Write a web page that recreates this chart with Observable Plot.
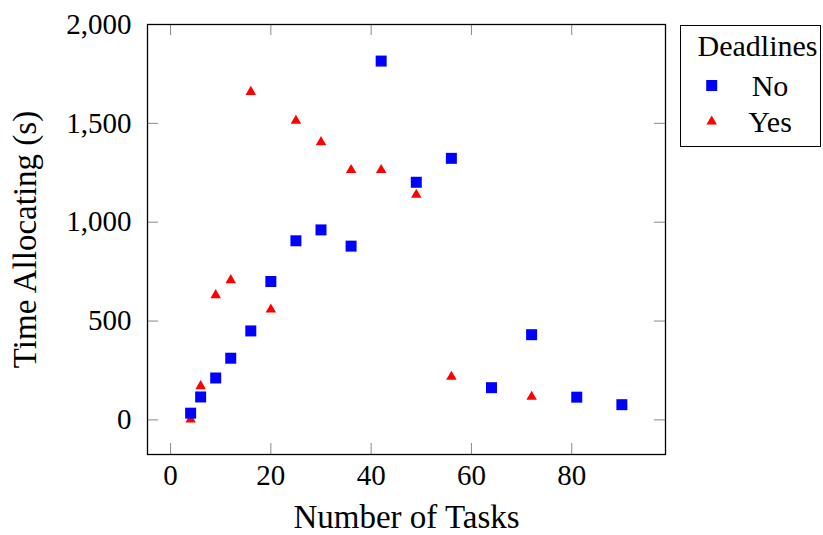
<!DOCTYPE html>
<html>
<head>
<meta charset="utf-8">
<script src="https://cdn.jsdelivr.net/npm/d3@7"></script>
<script src="https://cdn.jsdelivr.net/npm/@observablehq/plot@0.6"></script>
<style>
  html, body { margin: 0; padding: 0; background: #fff; }
  #wrap { position: relative; width: 823px; height: 535px; }
  #legend { position: absolute; left: 0; top: 0; pointer-events: none; }
</style>
</head>
<body>
<div id="wrap"></div>
<script>
const tasksNo = [4, 6, 9, 12, 16, 20, 25, 30, 36, 42, 49, 56, 64, 72, 81, 90];
const timeNo = [34, 116, 212, 312, 450, 700, 906, 961, 879, 1815, 1202, 1323, 163, 431, 115, 77];
const tasksYes = [4, 6, 9, 12, 16, 20, 25, 30, 36, 42, 49, 56, 72];
const timeYes = [2, 171, 631, 707, 1659, 558, 1513, 1405, 1264, 1264, 1139, 218, 117];
const xTicks = [0, 20, 40, 60, 80];
const yTicks = [0, 500, 1000, 1500, 2000];
const seriesNames = ["No", "Yes"];
const seriesColors = ["#0000ff", "#ff0000"];

const noData = tasksNo.map((t, i) => ({tasks: t, time: timeNo[i]}));
const yesData = tasksYes.map((t, i) => ({tasks: t, time: timeYes[i]}));

const FONT = "'Liberation Serif', 'Times New Roman', serif";
const W = 823, H = 535;
const mL = 147, mR = 158, mT = 24, mB = 81;
const fw = W - mL - mR, fh = H - mT - mB;
const tick = 11;

const chart = Plot.plot({
  width: W, height: H,
  marginLeft: mL, marginRight: mR, marginTop: mT, marginBottom: mB,
  style: {fontFamily: FONT, background: "#fff", color: "#000"},
  x: {domain: [-4.6, 98.7]},
  y: {domain: [-175, 2000]},
  marks: [
    Plot.tickX(xTicks, {x: d => d, stroke: "#888", strokeWidth: 1, insetTop: fh - tick}),
    Plot.tickX(xTicks, {x: d => d, stroke: "#888", strokeWidth: 1, insetBottom: fh - tick}),
    Plot.tickY(yTicks, {y: d => d, stroke: "#888", strokeWidth: 1, insetRight: fw - tick}),
    Plot.tickY(yTicks, {y: d => d, stroke: "#888", strokeWidth: 1, insetLeft: fw - tick}),
    Plot.axisX({ticks: xTicks, tickSize: 0, tickPadding: 10, fontSize: 29, fontFamily: FONT,
      label: null}),
    Plot.axisY({ticks: yTicks, tickSize: 0, tickPadding: 16, fontSize: 29, fontFamily: FONT,
      tickFormat: d3.format(","), label: null}),
    Plot.text(["Number of Tasks"], {frameAnchor: "bottom", dy: 73, lineAnchor: "bottom",
      fontSize: 33, fontFamily: FONT, fill: "#000"}),
    Plot.text(["Time Allocating (s)"], {frameAnchor: "left", dx: -135, rotate: -90, lineAnchor: "top",
      textAnchor: "middle", fontSize: 33, fontFamily: FONT, fill: "#000"}),
    Plot.dot(yesData, {x: "tasks", y: "time", symbol: "triangle", r: 3.9, fill: seriesColors[1], stroke: "none"}),
    Plot.dot(noData, {x: "tasks", y: "time", symbol: "square", r: 6.2, fill: seriesColors[0], stroke: "none"}),
    Plot.frame({stroke: "#000", strokeWidth: 1.3})
  ]
});
document.getElementById("wrap").appendChild(chart);

// Legend (overlay)
const lg = d3.select("#wrap").append("svg")
  .attr("id", "legend").attr("width", W).attr("height", H);
const lx = 680.5, ly = 25.5, lw = 140, lh = 121;
lg.append("rect").attr("x", lx).attr("y", ly).attr("width", lw).attr("height", lh)
  .attr("fill", "#fff").attr("stroke", "#000").attr("stroke-width", 1);
lg.append("text").attr("x", 757.5).attr("y", 56).attr("text-anchor", "middle")
  .attr("font-family", FONT).attr("font-size", 30).text("Deadlines");
const symbols = [d3.symbolSquare, d3.symbolTriangle];
const sizes = [Math.PI * 6.2 * 6.2, Math.PI * 3.9 * 3.9];
const rowY = [85.5, 121.5];
seriesNames.forEach((name, i) => {
  lg.append("path")
    .attr("d", d3.symbol(symbols[i], sizes[i])())
    .attr("transform", `translate(711.7,${rowY[i]})`)
    .attr("fill", seriesColors[i]);
  lg.append("text").attr("x", 770).attr("y", rowY[i] + 10).attr("text-anchor", "middle")
    .attr("font-family", FONT).attr("font-size", 30).text(name);
});
</script>
</body>
</html>
